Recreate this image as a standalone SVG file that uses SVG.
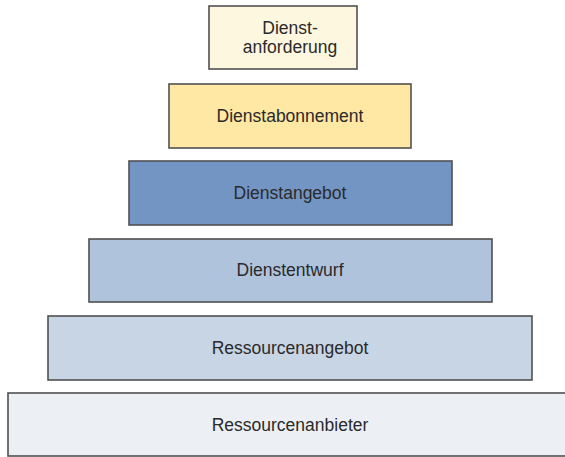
<svg xmlns="http://www.w3.org/2000/svg" width="565" height="457" viewBox="0 0 565 457">
<style>
.box{stroke:#505050;stroke-width:1.6}
text{font-family:"Liberation Sans",Arial,sans-serif;font-size:17.5px;fill:#2a2a2a;text-anchor:middle}
</style>
<rect width="565" height="457" fill="#fff"/>
<g id="dienstanforderung">
<rect class="box" x="209" y="6" width="148" height="63" fill="#FEF7E0"/>
<text x="290" y="34">Dienst-</text>
<text x="290" y="53">anforderung</text>
</g>
<g id="dienstabonnement">
<rect class="box" x="169" y="84" width="242" height="64" fill="#FEE8A4"/>
<text x="290" y="122">Dienstabonnement</text>
</g>
<g id="dienstangebot">
<rect class="box" x="129" y="161" width="323" height="64" fill="#7395C4"/>
<text x="290" y="199">Dienstangebot</text>
</g>
<g id="dienstentwurf">
<rect class="box" x="89" y="239" width="403" height="63" fill="#B0C3DD"/>
<text x="290" y="276">Dienstentwurf</text>
</g>
<g id="ressourcenangebot">
<rect class="box" x="48" y="316" width="484" height="64" fill="#C8D5E5"/>
<text x="290" y="354">Ressourcenangebot</text>
</g>
<g id="ressourcenanbieter">
<rect class="box" x="8" y="393" width="570" height="63" fill="#ECF0F5"/>
<text x="290" y="431">Ressourcenanbieter</text>
</g>
<g id="connectors"></g>
</svg>
